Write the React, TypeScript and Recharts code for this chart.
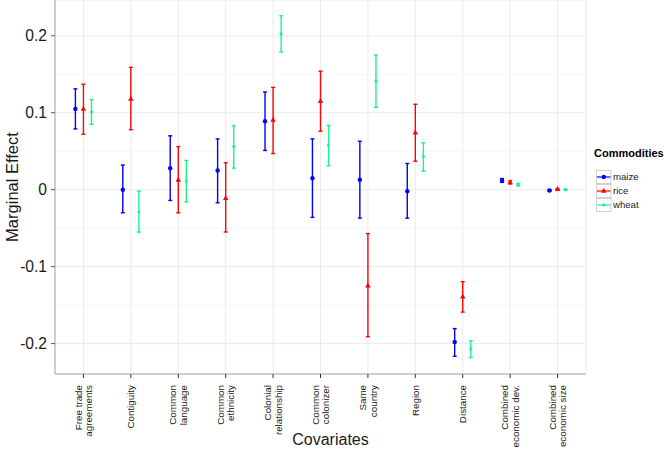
import React from "react";
import { ComposedChart, Scatter, ErrorBar, XAxis, YAxis, CartesianGrid, ReferenceLine, Legend } from "recharts";

const categories = [
  "Free trade\nagreements",
  "Contiguity",
  "Common\nlanguage",
  "Common\nethnicity",
  "Colonial\nrelationship",
  "Common\ncolonizer",
  "Same\ncountry",
  "Region",
  "Distance",
  "Combined\neconomic dev.",
  "Combined\neconomic size",
];

const maizeEst = [0.105, 0.0, 0.028, 0.025, 0.089, 0.015, 0.013, -0.002, -0.198, 0.0117, -0.001];
const maizeLow = [0.079, -0.03, -0.014, -0.017, 0.051, -0.036, -0.037, -0.037, -0.2165, 0.0095, -0.002];
const maizeHigh = [0.131, 0.032, 0.07, 0.066, 0.127, 0.066, 0.063, 0.034, -0.1805, 0.0145, 0.0];

const riceEst = [0.105, 0.118, 0.0126, -0.011, 0.0905, 0.115, -0.1247, 0.074, -0.139, 0.0095, 0.0005];
const riceLow = [0.072, 0.078, -0.03, -0.055, 0.047, 0.076, -0.191, 0.037, -0.159, 0.0075, -0.0005];
const riceHigh = [0.137, 0.159, 0.056, 0.035, 0.133, 0.154, -0.057, 0.111, -0.1195, 0.0115, 0.0015];

const wheatEst = [0.101, -0.029, 0.011, 0.056, 0.2026, 0.0576, 0.141, 0.043, -0.207, 0.0065, 0.0];
const wheatLow = [0.085, -0.055, -0.016, 0.028, 0.179, 0.031, 0.107, 0.024, -0.218, 0.005, -0.0005];
const wheatHigh = [0.117, -0.002, 0.038, 0.083, 0.226, 0.0835, 0.175, 0.061, -0.1965, 0.008, 0.0005];

const yTicks = [-0.2, -0.1, 0, 0.1, 0.2];
const yMinor = [-0.15, -0.05, 0.05, 0.15];

const COLORS = { maize: "#0000FF", rice: "#FF0000", wheat: "#1AF28A" };
const DODGE = 0.17;

function build(est: number[], low: number[], high: number[], offset: number) {
  return est.map((v, i) => ({ x: i + offset, y: v, err: [v - low[i], high[i] - v] }));
}

const series = [
  { name: "maize", color: COLORS.maize, data: build(maizeEst, maizeLow, maizeHigh, -DODGE) },
  { name: "rice", color: COLORS.rice, data: build(riceEst, riceLow, riceHigh, 0) },
  { name: "wheat", color: COLORS.wheat, data: build(wheatEst, wheatLow, wheatHigh, DODGE) },
];

function Marker({ kind, cx, cy, color }: { kind: string; cx: number; cy: number; color: string }) {
  if (kind === "rice") {
    return <polygon points={`${cx},${cy - 3.2} ${cx - 2.7},${cy + 1.8} ${cx + 2.7},${cy + 1.8}`} fill={color} />;
  }
  if (kind === "wheat") {
    return <polygon points={`${cx},${cy - 2.1} ${cx + 1.9},${cy} ${cx},${cy + 2.1} ${cx - 1.9},${cy}`} fill={color} />;
  }
  return <circle cx={cx} cy={cy} r={2.2} fill={color} />;
}

function CategoryTick(props: any) {
  const { x, y, payload } = props;
  const lines = String(categories[payload.value] ?? "").split("\n");
  const gap = 10.5;
  return (
    <g transform={`translate(${x},${y})`}>
      <text transform="rotate(-90)" textAnchor="end" fontSize={9.8} fill="#1a1a1a">
        {lines.map((ln, i) => (
          <tspan key={i} x={-5} y={(i - (lines.length - 1) / 2) * gap + 3.4}>
            {ln}
          </tspan>
        ))}
      </text>
    </g>
  );
}

function LegendBox() {
  return (
    <div style={{ width: 78, paddingLeft: 8, boxSizing: "border-box", fontFamily: "Liberation Sans, Arial, sans-serif" }}>
      <div style={{ fontWeight: "bold", fontSize: 11, lineHeight: "14px", marginBottom: 10 }}>Commodities</div>
      {series.map((s) => (
        <div key={s.name} style={{ display: "flex", alignItems: "center", height: 13.8 }}>
          <svg width={16} height={14} style={{ marginLeft: 2 }}>
            <rect x={0.5} y={0.5} width={14.5} height={13} fill="#fff" stroke="#d0d0d0" />
            <line x1={1} x2={14.5} y1={7} y2={7} stroke={s.color} strokeWidth={1.2} />
            <Marker kind={s.name} cx={7.75} cy={7} color={s.color} />
          </svg>
          <span style={{ fontSize: 9.6, marginLeft: 1, color: "#1a1a1a" }}>{s.name}</span>
        </div>
      ))}
    </div>
  );
}

export default function App() {
  return (
    <div style={{ position: "absolute", left: 0, top: 0, background: "#fff", fontFamily: "Liberation Sans, Arial, sans-serif" }}>
      <ComposedChart width={664} height={453} margin={{ top: 0, right: 0, bottom: 0, left: 0 }}>
        <CartesianGrid stroke="#EBEBEB" strokeWidth={1} />
        {yMinor.map((v) => (
          <ReferenceLine key={v} y={v} stroke="#F5F5F5" strokeWidth={1} ifOverflow="hidden" />
        ))}
        <XAxis
          dataKey="x"
          type="number"
          domain={[-0.6, 10.6]}
          ticks={categories.map((_, i) => i)}
          interval={0}
          allowDataOverflow
          height={79}
          stroke="#A8A8A8"
          tickLine={{ stroke: "#333" }}
          tickSize={4}
          tick={<CategoryTick />}
          label={(p: any) => {
            const vb = p.viewBox;
            return (
              <text x={vb.x + vb.width / 2 + 10} y={vb.y + vb.height - 8} textAnchor="middle" fontSize={16} fill="#1a1a1a">
                Covariates
              </text>
            );
          }}
        />
        <XAxis xAxisId="top" orientation="top" type="number" domain={[0, 1]} height={0} tick={false} tickLine={false} stroke="#A8A8A8" />
        <YAxis
          dataKey="y"
          type="number"
          domain={[-0.2395, 0.2465]}
          ticks={yTicks}
          allowDataOverflow
          width={55}
          stroke="#A8A8A8"
          tickLine={{ stroke: "#555" }}
          tickSize={4}
          tickMargin={4}
          tick={{ fontSize: 15.6, fill: "#1a1a1a" }}
          tickFormatter={(v: number) => String(v)}
          label={(p: any) => {
            const vb = p.viewBox;
            const cy = vb.y + vb.height / 2;
            return (
              <text x={vb.x + 18} y={cy} transform={`rotate(-90, ${vb.x + 18}, ${cy})`} textAnchor="middle" fontSize={16.5} fill="#1a1a1a">
                Marginal Effect
              </text>
            );
          }}
        />
        <YAxis yAxisId="right" orientation="right" type="number" domain={[0, 1]} width={0} tick={false} tickLine={false} stroke="#A8A8A8" />
        <Legend layout="vertical" align="right" verticalAlign="top" content={() => <LegendBox />} wrapperStyle={{ top: 146 }} />
        {series.map((s) => (
          <Scatter
            key={s.name}
            name={s.name}
            data={s.data}
            fill={s.color}
            isAnimationActive={false}
            shape={(p: any) => <Marker kind={s.name} cx={p.cx} cy={p.cy} color={s.color} />}
          >
            <ErrorBar dataKey="err" direction="y" width={2} stroke={s.color} strokeWidth={1.4} isAnimationActive={false} />
          </Scatter>
        ))}
      </ComposedChart>
    </div>
  );
}
